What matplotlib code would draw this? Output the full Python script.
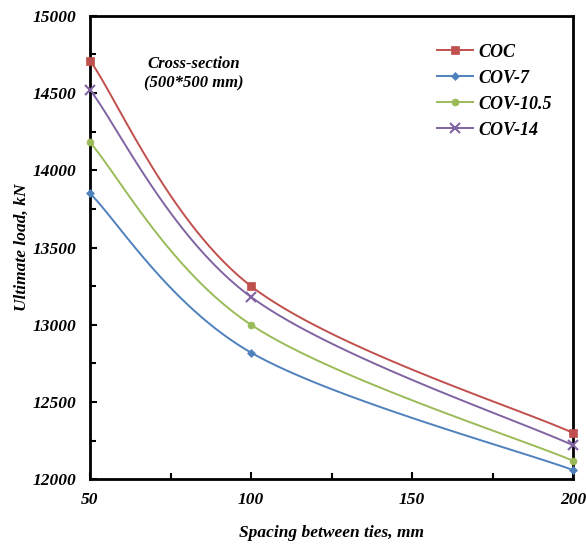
import numpy as np
import matplotlib
matplotlib.use("Agg")
import matplotlib.pyplot as plt
from matplotlib.ticker import MultipleLocator

# 띠철근 간격별 극한하중 (단면 500*500 mm)
spacing = [50, 100, 200]
series_names = ["COC", "COV-7", "COV-10.5", "COV-14"]
load_coc = [14710, 13250, 12300]
load_cov7 = [13850, 12820, 12060]
load_cov105 = [14180, 13000, 12120]
load_cov14 = [14520, 13180, 12220]

XLIM = (50, 200)
YLIM = (12000, 15000)

plt.rcParams["font.family"] = ["Liberation Serif", "DejaVu Serif"]


def smooth_curve(xs, ys, n=60):
    # 엑셀식 부드러운 선: 축 비율 좌표에서 베지어 곡선 (tension 1/6)
    px = (np.asarray(xs, float) - XLIM[0]) / (XLIM[1] - XLIM[0]) * 483
    py = (np.asarray(ys, float) - YLIM[0]) / (YLIM[1] - YLIM[0]) * 463.6
    P = np.column_stack([px, py])
    P_ext = np.vstack([P[0], P, P[-1]])
    t = np.linspace(0, 1, n)[:, None]
    out = []
    for i in range(len(P) - 1):
        p0, p3 = P_ext[i + 1], P_ext[i + 2]
        c1 = p0 + (P_ext[i + 2] - P_ext[i]) / 6
        c2 = p3 - (P_ext[i + 3] - P_ext[i + 1]) / 6
        seg = ((1 - t) ** 3) * p0 + 3 * ((1 - t) ** 2) * t * c1 + 3 * (1 - t) * t ** 2 * c2 + t ** 3 * p3
        out.append(seg if i == 0 else seg[1:])
    out = np.vstack(out)
    x = out[:, 0] / 483 * (XLIM[1] - XLIM[0]) + XLIM[0]
    y = out[:, 1] / 463.6 * (YLIM[1] - YLIM[0]) + YLIM[0]
    return x, y


fig = plt.figure(figsize=(5.86, 5.45), dpi=100)
ax = fig.add_axes([0.1536, 0.1205, 0.8244, 0.8507])

styles = [
    (load_coc, "#C0504D", "s", 6),
    (load_cov7, "#4F81BD", "D", 4),
    (load_cov105, "#9BBB59", "o", 5),
    (load_cov14, "#8064A2", "x", 7),
]

for name, (vals, col, mk, ms) in zip(series_names, styles):
    sx, sy = smooth_curve(spacing, vals)
    ax.plot(sx, sy, color=col, lw=1.4, clip_on=False)
    ax.plot(spacing, vals, ls="none", marker=mk, ms=ms, color=col,
            mew=1.5 if mk == "x" else 0.5, clip_on=False, zorder=3)
    ax.plot([], [], color=col, lw=1.4, marker=mk, ms=ms,
            mew=1.5 if mk == "x" else 0.5, label=name)

ax.set_xlim(*XLIM)
ax.set_ylim(*YLIM)
ax.xaxis.set_major_locator(MultipleLocator(50))
ax.xaxis.set_minor_locator(MultipleLocator(25))
ax.yaxis.set_major_locator(MultipleLocator(500))
ax.yaxis.set_minor_locator(MultipleLocator(250))
ax.tick_params(which="both", direction="in", width=1.5, labelsize=12.5)
ax.tick_params(axis="x", pad=9)
ax.tick_params(axis="y", pad=10)
ax.tick_params(which="major", length=5)
ax.tick_params(which="minor", length=4)
for lbl in ax.get_xticklabels() + ax.get_yticklabels():
    lbl.set_fontweight("bold")
    lbl.set_fontstyle("italic")
for sp in ax.spines.values():
    sp.set_linewidth(2)

ax.set_xlabel("Spacing between ties, mm", fontsize=12.5, fontweight="bold",
              fontstyle="italic", va="center")
ax.set_ylabel("Ultimate load, kN", fontsize=12.5, fontweight="bold",
              fontstyle="italic", va="center")
ax.xaxis.set_label_coords(0.5, -0.116)
ax.yaxis.set_label_coords(-0.141, 0.5)

ax.text(82.3, 14625, "Cross-section\n(500*500 mm)", ha="center", va="center",
        fontsize=12, fontweight="bold", fontstyle="italic", linespacing=1.25)

leg = ax.legend(loc="upper right", bbox_to_anchor=(0.99, 0.975), frameon=False,
                prop={"size": 13, "weight": "bold", "style": "italic"},
                handlelength=2.0, handletextpad=0.3, labelspacing=0.5)

fig.savefig("out.png", dpi=100)
